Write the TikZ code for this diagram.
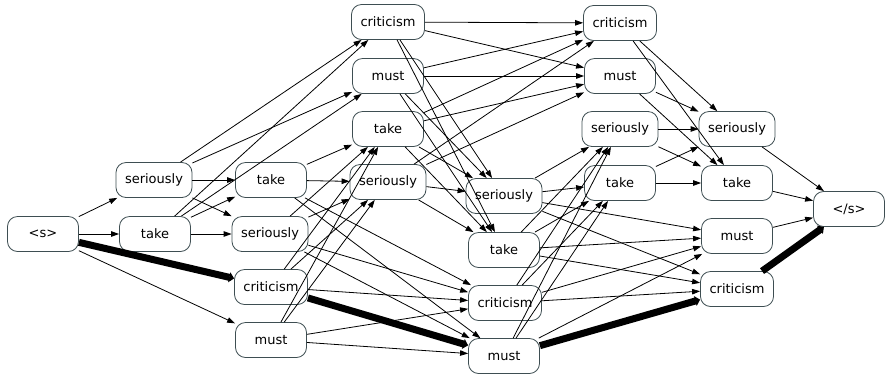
\documentclass[tikz,border=0pt]{standalone}
\usepackage{fontspec}
\setmainfont{DejaVu Sans}
\usetikzlibrary{arrows.meta}
\definecolor{boxline}{RGB}{62,78,82}
\tikzset{
  word/.style={draw=boxline,fill=white,rounded corners=10pt,minimum width=71pt,
    minimum height=35pt,inner xsep=9pt,font=\fontsize{13}{15}\selectfont},
  best/.style={line width=7pt,-{Triangle[length=5pt,width=10pt]}}
}
\begin{document}
\begin{tikzpicture}[x=1pt,y=-1pt,line width=0.8pt,>={Triangle[length=8pt,width=5.5pt]}]
\useasboundingbox (0,0) rectangle (885,376);
% words of the lattice
\node[word] (bos) at (43,234) {<s>};
\node[word] (a1) at (154,180) {seriously};
\node[word] (a2) at (155,234) {take};
\node[word] (b1) at (271,180) {take};
\node[word] (b2) at (270,234) {seriously};
\node[word] (b3) at (271,287) {criticism};
\node[word] (b4) at (271,340) {must};
\node[word] (c1) at (388,22) {criticism};
\node[word] (c2) at (388,76) {must};
\node[word] (c3) at (388,129) {take};
\node[word] (c4) at (388,182) {seriously};
\node[word] (d1) at (504,196) {seriously};
\node[word] (d2) at (504,250) {take};
\node[word] (d3) at (505,303) {criticism};
\node[word] (d4) at (504,356) {must};
\node[word] (e1) at (620,23) {criticism};
\node[word] (e2) at (620,76) {must};
\node[word] (e3) at (620,129) {seriously};
\node[word] (e4) at (620,183) {take};
\node[word] (f1) at (737,129) {seriously};
\node[word] (f2) at (737,183) {take};
\node[word] (f3) at (737,236) {must};
\node[word] (f4) at (737,289) {criticism};
\node[word] (eos) at (849,209) {</s>};
% transitions
\path[->] (bos) edge (a1) edge (a2) edge (b4);
\path[->] (a1) edge (b1) edge (b2) edge (c1) edge (c2);
\path[->] (a2) edge (b1) edge (b2) edge (c1) edge (c2);
\path[->] (b1) edge (c3) edge (c4) edge (d3) edge (d4);
\path[->] (b2) edge (c3) edge (c4) edge (d3) edge (d4);
\path[->] (b3) edge (c3) edge (c4) edge (d3);
\path[->] (b4) edge (c3) edge (c4) edge (d3) edge (d4);
\path[->] (c1) edge (d1) edge (d2) edge (e1) edge (e2);
\path[->] (c2) edge (d1) edge (d2) edge (e1) edge (e2);
\path[->] (c3) edge (d1) edge (d2) edge (e1) edge (e2);
\path[->] (c4) edge (d1) edge (d2) edge (e1) edge (e2);
\path[->] (d1) edge (e3) edge (e4) edge (f3) edge (f4);
\path[->] (d2) edge (e3) edge (e4) edge (f3) edge (f4);
\path[->] (d3) edge (e3) edge (e4) edge (f3) edge (f4);
\path[->] (d4) edge (e3) edge (e4) edge (f3);
\path[->] (e1) edge (f1) edge (f2);
\path[->] (e2) edge (f1) edge (f2);
\path[->] (e3) edge (f1) edge (f2);
\path[->] (e4) edge (f1) edge (f2);
\path[->] (f1) edge (eos);
\path[->] (f2) edge (eos);
\path[->] (f3) edge (eos);
% best path
\draw[best] (bos) -- (b3);
\draw[best] (b3) -- (d4);
\draw[best] (d4) -- (f4);
\draw[best] (f4) -- (eos);
\end{tikzpicture}
\end{document}
